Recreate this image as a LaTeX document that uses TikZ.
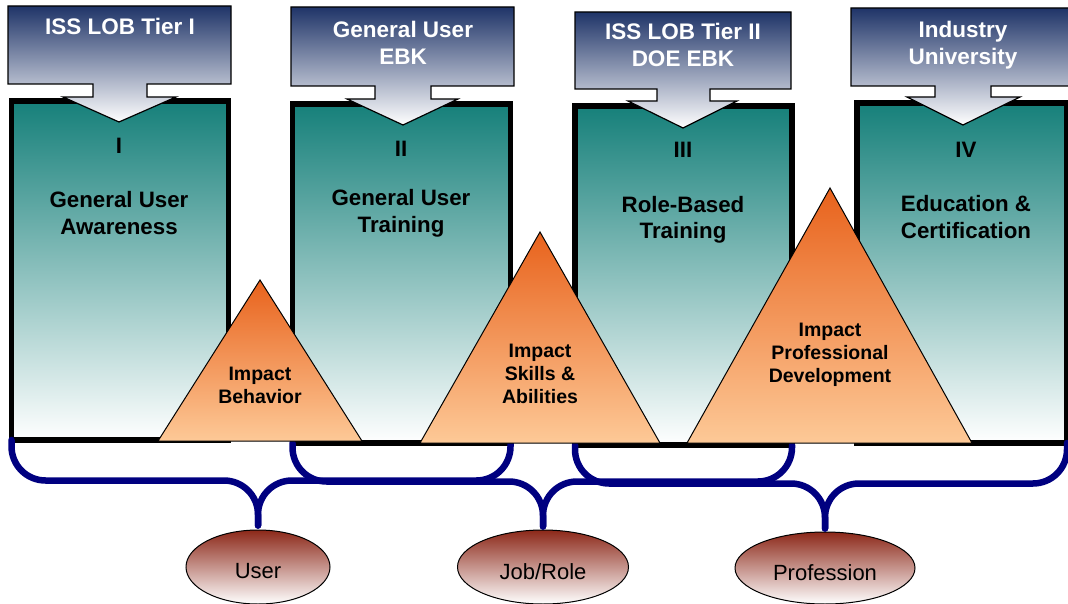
\documentclass[tikz,border=0pt]{standalone}
\usepackage{fontspec}
\setmainfont{Liberation Sans}
\usetikzlibrary{shapes.geometric,calc}
\definecolor{hdrtop}{RGB}{31,52,104}
\definecolor{hdrmid}{RGB}{168,172,190}
\definecolor{teal1}{RGB}{22,128,122}
\definecolor{tritop}{RGB}{232,98,28}
\definecolor{tribot}{RGB}{253,201,151}
\definecolor{elltop}{RGB}{140,40,25}
\definecolor{bracec}{RGB}{0,0,128}
\begin{document}
\begin{tikzpicture}[x=1pt,y=-1pt,
 mainbox/.style={draw=black, line width=5.5pt, outer sep=0pt, inner sep=0pt, top color=teal1, bottom color=white},
 hdrbox/.style={draw=black, line width=1.2pt, top color=hdrtop, middle color=hdrmid, bottom color=white},
 hdrtext/.style={text=white, font=\bfseries\fontsize{22.5}{27}\selectfont, align=center, inner sep=0pt, anchor=base},
 boxtext/.style={text=black, font=\bfseries\fontsize{22.3}{27}\selectfont, align=center, inner sep=0pt, anchor=base},
 tri/.style={draw=black, line width=1pt, top color=tritop, bottom color=tribot},
 tritext/.style={text=black, font=\bfseries\fontsize{19.5}{23}\selectfont, align=center, inner sep=0pt, anchor=base},
 ell/.style={ellipse, draw=black, line width=1pt, top color=elltop, bottom color=white, inner sep=0pt, font=\fontsize{22}{26}\selectfont},
 brace/.style={draw=bracec, line width=6.5pt, line cap=round, rounded corners=34pt}
]
\useasboundingbox (0,0) rectangle (1068,604);

% main boxes
\node[mainbox, minimum width=217pt, minimum height=339pt] (b1) at (120,270.5) {};
\node[mainbox, minimum width=218pt, minimum height=339pt] (b2) at (401.5,273.5) {};
\node[mainbox, minimum width=217pt, minimum height=339pt] (b3) at (683.5,275.5) {};
\node[mainbox, minimum width=210pt, minimum height=340pt] (b4) at (962,273) {};

% header callouts
\shade[hdrbox] (8,6) -- (231,6) -- (231,84) -- (147,84) -- (147,97) -- (176,97) -- (119,122) -- (63,97) -- (93,97) -- (93,84) -- (8,84) -- cycle;
\shade[hdrbox] (291,7) -- (514,7) -- (514,86) -- (431,86) -- (431,99) -- (458,99) -- (403,125) -- (347,99) -- (375,99) -- (375,86) -- (291,86) -- cycle;
\shade[hdrbox] (575,12) -- (791,12) -- (791,89) -- (710,89) -- (710,101) -- (737,101) -- (683,128) -- (628,101) -- (657,101) -- (657,89) -- (575,89) -- cycle;
\shade[hdrbox] (851,8) -- (1075,8) -- (1075,86) -- (991,86) -- (991,97) -- (1020,97) -- (963,125) -- (907,97) -- (935,97) -- (935,86) -- (851,86) -- cycle;

\node[hdrtext] (h1t) at (120,35) {ISS LOB Tier I};
\node[hdrtext] (h2t) at (403,65) {General User\\EBK};
\node[hdrtext] (h3t) at (683,67) {ISS LOB Tier II\\DOE EBK};
\node[hdrtext] (h4t) at (963,65) {Industry\\University};

% box texts
\node[boxtext] (n1) at (119,154) {I};
\node[boxtext] (n2) at (401,157) {II};
\node[boxtext] (n3) at (683,158) {III};
\node[boxtext] (n4) at (966,158) {IV};
\node[boxtext] (t1) at (119,234) {General User\\Awareness};
\node[boxtext] (t2) at (401,233) {General User\\Training};
\node[boxtext] (t3) at (683,239) {Role-Based\\Training};
\node[boxtext] (t4) at (966,238) {Education \&\\Certification};

% ellipses
\node[ell, minimum width=144pt, minimum height=74pt] (e1) at (258,567) {\raisebox{-4.5pt}[\height][\depth]{User}};
\node[ell, minimum width=171pt, minimum height=74pt] (e2) at (543,567) {\raisebox{-4.5pt}[\height][\depth]{Job/Role}};
\node[ell, minimum width=180pt, minimum height=72pt] (e3) at (825,568) {\raisebox{-4.5pt}[\height][\depth]{Profession}};

% braces
\coordinate (p1) at ($(e1.north)+(0,-4)$);
\coordinate (q1) at ($(e1.north)+(0,-49)$);
\coordinate (p2) at ($(e2.north)+(0,-3)$);
\coordinate (q2) at ($(e2.north)+(0,-48)$);
\coordinate (p3) at ($(e3.north)+(0,-3)$);
\coordinate (q3) at ($(e3.north)+(0,-48)$);
\draw[brace] (b1.south west) -- (b1.south west |- q1) -- (q1) -- (p1);
\draw[brace] (b2.south east) -- (b2.south east |- q1) -- (q1) -- (p1);
\draw[brace] (b2.south west) -- (b2.south west |- q2) -- (q2) -- (p2);
\draw[brace] (b3.south east) -- (b3.south east |- q2) -- (q2) -- (p2);
\draw[brace] (b3.south west) -- (b3.south west |- q3) -- (q3) -- (p3);
\draw[brace] (b4.south east) -- (b4.south east |- q3) -- (q3) -- (p3);

% triangles
\shade[tri] (260,280) -- (362,441) -- (158,441) -- cycle;
\shade[tri] (540,232) -- (660,443) -- (420,443) -- cycle;
\shade[tri] (830,188) -- (972,443) -- (687,443) -- cycle;
\node[tritext] (i1) at (260,403) {Impact\\Behavior};
\node[tritext] (i2) at (540,403) {Impact\\Skills \&\\Abilities};
\node[tritext] (i3) at (830,382) {Impact\\Professional\\Development};
\end{tikzpicture}
\end{document}
